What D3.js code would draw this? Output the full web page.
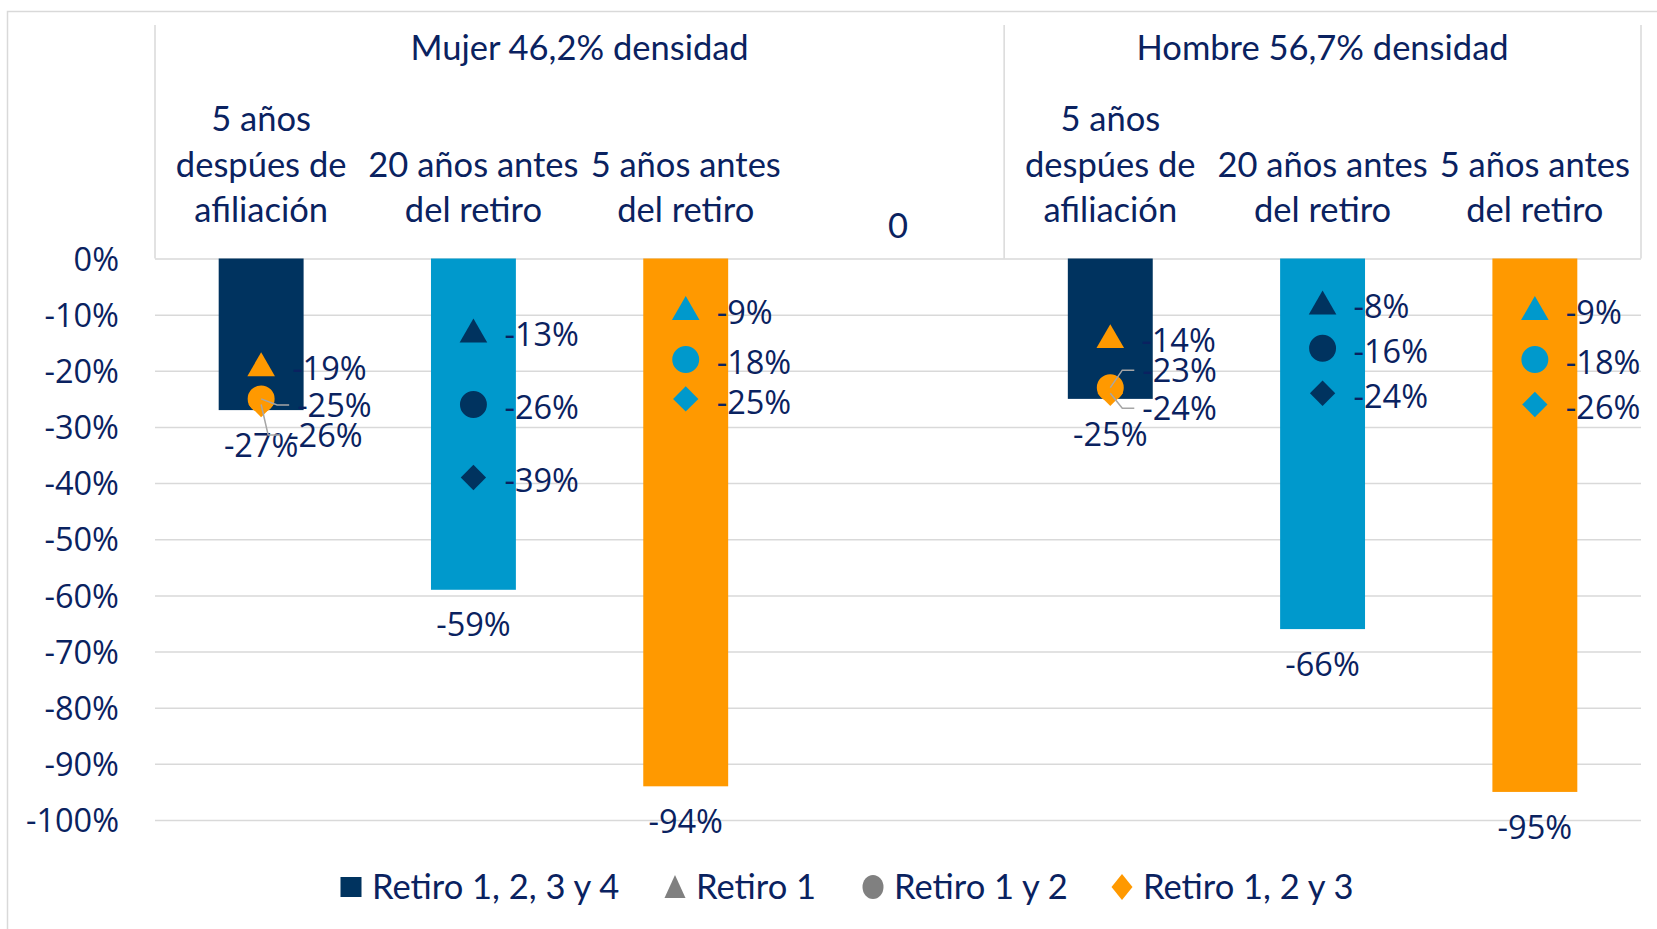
<!DOCTYPE html>
<html>
<head>
<meta charset="utf-8">
<script src="https://cdn.jsdelivr.net/npm/d3@7"></script>
<style>
  html, body { margin: 0; padding: 0; background: #fff; }
  svg { display: block; }
</style>
</head>
<body>
<svg id="chart" width="1657" height="929"></svg>
<script>
// ---------------- DATA ----------------
const categories = ["m1", "m2", "m3", "gap", "h1", "h2", "h3"];
const categoryLabels = [
  ["5 años", "despúes de", "afiliación"],
  ["20 años antes", "del retiro"],
  ["5 años antes", "del retiro"],
  ["0"],
  ["5 años", "despúes de", "afiliación"],
  ["20 años antes", "del retiro"],
  ["5 años antes", "del retiro"]
];
const groupLabels = ["Mujer 46,2% densidad", "Hombre 56,7% densidad"];
const groupSpans = [[0, 3], [4, 6]];
const retiro1234 = [-27, -59, -94, null, -25, -66, -95];
const retiro1 = [-19, -13, -9, null, -14, -8, -9];
const retiro12 = [-25, -26, -18, null, -23, -16, -18];
const retiro123 = [-26, -39, -25, null, -24, -24, -26];
const yTicks = [0, -10, -20, -30, -40, -50, -60, -70, -80, -90, -100];
const seriesNames = ["Retiro 1, 2, 3 y 4", "Retiro 1", "Retiro 1 y 2", "Retiro 1, 2 y 3"];

// ---------------- STYLE / LAYOUT ----------------
const NAVY = "#00335f", BLUE = "#0099cc", ORANGE = "#ff9900";
const TEXT = "#0a2260", GRID = "#d9d9d9", GRAY = "#808080", LEADER = "#a6a6a6";
const barColors = [NAVY, BLUE, ORANGE];
const markerColors = [ORANGE, NAVY, BLUE];
const labelFont = "'Open Sans', 'Noto Sans', sans-serif";
const catFont = "Lato, 'Noto Sans', sans-serif";
const LABEL_FS = 32.5;
const CAT_FS = 34.5;

// label nudges for overlapping labels (dx from marker x to label start, dy from marker y to label centre)
const labelNudge = {
  "0-circle": { dx: 36, dy: 6, leader: true },
  "0-diamond": { dx: 27, dy: 30.5, leader: true },
  "4-circle": { dx: 32, dy: -17.5, leader: true },
  "4-diamond": { dx: 32, dy: 15, leader: true }
};

const svg = d3.select("#chart");
const W = 1657, H = 929;
const plot = { left: 155, right: 1641, top: 258.5, bottom: 820 };

svg.append("rect").attr("width", W).attr("height", H).attr("fill", "#fff");
svg.append("rect").attr("x", 7.5).attr("y", 11.5).attr("width", W).attr("height", H)
  .attr("fill", "none").attr("stroke", GRID).attr("stroke-width", 1.5);

const x = d3.scaleBand().domain(d3.range(categories.length)).range([plot.left, plot.right]).padding(0);
const y = d3.scaleLinear().domain([0, -100]).range([plot.top, plot.bottom]);
const barW = x.bandwidth() * 0.4;
const cx = i => x(i) + x.bandwidth() / 2;

// gridlines
const grid = svg.append("g").attr("transform", `translate(${plot.left},0)`)
  .call(d3.axisRight(y).tickValues(yTicks).tickSize(plot.right - plot.left).tickFormat(""));
grid.select(".domain").remove();
grid.selectAll("line").attr("stroke", GRID).attr("stroke-width", 1.5);

// y axis labels
const yAxis = svg.append("g").attr("transform", `translate(${plot.left},0)`)
  .call(d3.axisLeft(y).tickValues(yTicks).tickSize(0).tickPadding(36).tickFormat(d => d + "%"));
yAxis.select(".domain").remove();
yAxis.selectAll("text").attr("font-family", labelFont).attr("font-size", LABEL_FS).attr("fill", TEXT)
  .attr("dy", "0.36em");

// header box lines
const headTop = 25;
[plot.left, x(4), plot.right].forEach(xx => {
  svg.append("line").attr("x1", xx).attr("x2", xx).attr("y1", headTop).attr("y2", plot.top)
    .attr("stroke", GRID).attr("stroke-width", 1.5);
});

// group labels
groupLabels.forEach((g, k) => {
  const [a, b] = groupSpans[k];
  const start = k === 0 ? plot.left : x(a);
  const end = x(b) + x.bandwidth();
  svg.append("text").attr("x", (start + end) / 2).attr("y", 47.5).attr("dy", "0.36em")
    .attr("text-anchor", "middle").attr("font-family", catFont).attr("font-size", CAT_FS)
    .attr("fill", TEXT).text(g);
});

// category labels
const lineGap = 45.4;
categoryLabels.forEach((lines, i) => {
  const n = lines.length;
  const baseY = n === 1 ? 226 : 209.5 - (n - 1) * lineGap;
  lines.forEach((ln, j) => {
    svg.append("text").attr("x", cx(i)).attr("y", baseY + j * lineGap).attr("dy", "0.36em")
      .attr("text-anchor", "middle").attr("font-family", catFont).attr("font-size", CAT_FS)
      .attr("fill", TEXT).text(ln);
  });
});

// bars
const pos = i => (i > 3 ? i - 4 : i);
const barData = retiro1234.map((v, i) => ({ v, i })).filter(d => d.v !== null);
svg.append("g").selectAll("rect").data(barData).join("rect")
  .attr("x", d => cx(d.i) - barW / 2)
  .attr("y", y(0))
  .attr("width", barW)
  .attr("height", d => y(d.v) - y(0))
  .attr("fill", d => barColors[pos(d.i)]);

svg.append("g").selectAll("text").data(barData).join("text")
  .attr("x", d => cx(d.i)).attr("y", d => y(d.v) + 35).attr("dy", "0.36em")
  .attr("text-anchor", "middle").attr("font-family", labelFont).attr("font-size", LABEL_FS)
  .attr("fill", TEXT).text(d => d.v + "%");

// markers
const markerSeries = [
  { key: "diamond", values: retiro123, sym: d3.symbolSquare, size: 320, rot: 45 },
  { key: "circle", values: retiro12, sym: d3.symbolCircle, size: 570, rot: 0 },
  { key: "triangle", values: retiro1, sym: d3.symbolTriangle, size: 330, rot: 0 }
];
const mg = svg.append("g");
const leaderG = svg.append("g");
const lg = svg.append("g");
markerSeries.forEach(s => {
  s.values.forEach((v, i) => {
    if (v === null) return;
    const mx = cx(i), my = y(v);
    const off = s.key === "triangle" ? 3 : 0;
    mg.append("path")
      .attr("d", d3.symbol().type(s.sym).size(s.size)())
      .attr("transform", `translate(${mx},${my + off}) rotate(${s.rot})`)
      .attr("fill", markerColors[pos(i)]);
    const nudge = labelNudge[`${i}-${s.key}`] || { dx: 31, dy: 3 };
    const lx = mx + nudge.dx, ly = my + nudge.dy;
    if (nudge.leader) {
      leaderG.append("path")
        .attr("d", d3.line()([[mx, my], [lx - 20, ly], [lx - 8, ly]]))
        .attr("fill", "none").attr("stroke", LEADER).attr("stroke-width", 1.5);
    }
    lg.append("text").attr("x", lx).attr("y", ly).attr("dy", "0.36em")
      .attr("font-family", labelFont).attr("font-size", LABEL_FS).attr("fill", TEXT)
      .text(v + "%");
  });
});
leaderG.raise(); lg.raise();

// legend
const legendY = 887;
const legendItems = [
  { name: seriesNames[0], x: 351, shape: "square", color: NAVY },
  { name: seriesNames[1], x: 675, shape: "triangle", color: GRAY },
  { name: seriesNames[2], x: 873, shape: "circle", color: GRAY },
  { name: seriesNames[3], x: 1122, shape: "diamond", color: ORANGE }
];
const leg = svg.append("g");
legendItems.forEach(it => {
  let p;
  if (it.shape === "square") {
    p = leg.append("rect").attr("x", it.x - 10.5).attr("y", legendY - 10).attr("width", 21).attr("height", 20);
  } else if (it.shape === "triangle") {
    p = leg.append("path").attr("d", `M${it.x},${legendY - 12}L${it.x + 10.5},${legendY + 11}L${it.x - 10.5},${legendY + 11}Z`);
  } else if (it.shape === "circle") {
    p = leg.append("ellipse").attr("cx", it.x).attr("cy", legendY).attr("rx", 10.5).attr("ry", 12);
  } else {
    p = leg.append("path").attr("d", `M${it.x},${legendY - 13}L${it.x + 10.5},${legendY}L${it.x},${legendY + 13}L${it.x - 10.5},${legendY}Z`);
  }
  p.attr("fill", it.color);
  leg.append("text").attr("x", it.x + 21).attr("y", legendY).attr("dy", "0.36em")
    .attr("font-family", catFont).attr("font-size", CAT_FS).attr("fill", TEXT).text(it.name);
});
</script>
</body>
</html>
